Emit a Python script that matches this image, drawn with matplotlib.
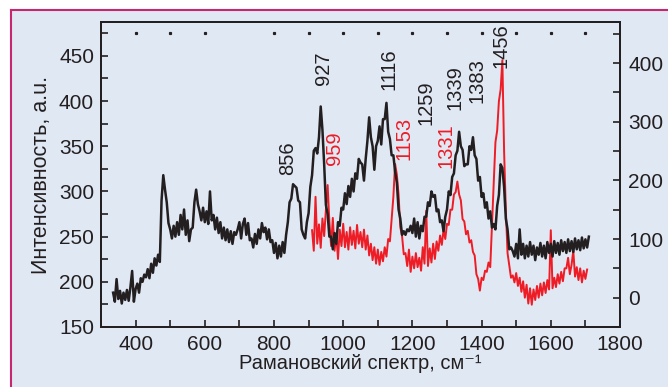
import numpy as np
import matplotlib.pyplot as plt
from matplotlib.patches import Rectangle
from matplotlib.lines import Line2D
from matplotlib.ticker import MultipleLocator

plt.rcParams['font.family'] = ['Liberation Sans', 'DejaVu Sans']

# black spectrum (left axis), 335..1710 cm-1 every 5
black_start = 335
black_vals = [
    188, 178, 203, 181, 190, 176, 188, 180, 191, 179, 194, 212, 178, 192,      # 335-400
    198, 188, 204, 200, 208, 205, 214, 204, 220, 210, 226, 218, 230, 222,      # 405-470
    290, 318, 302, 288, 265, 258, 248, 262, 250, 266, 252, 274, 258, 280,      # 475-540
    252, 268, 245, 258, 260, 288, 302, 286, 278, 268, 282, 266, 278, 264,      # 545-610
    300, 268, 274, 258, 271, 254, 266, 248, 260, 246, 258, 244, 256, 242,      # 615-680
    255, 252, 258, 266, 248, 264, 270, 252, 265, 246, 248, 238, 253, 242,      # 685-750
    258, 248, 265, 255, 260, 247, 258, 244, 246, 232, 243, 226, 240, 228,      # 755-820
    244, 232, 252, 266, 288, 292, 308, 306, 304, 290, 288, 258, 252, 248,      # 825-890
    266, 276, 305, 318, 345, 348, 342, 360, 394, 368, 330, 285, 275, 250,      # 895-960
    250, 236, 254, 242, 266, 262, 282, 280, 298, 286, 306, 294, 314, 300,      # 965-1030
    320, 314, 336, 332, 330, 312, 336, 356, 382, 360, 350, 324, 350, 356,      # 1035-1100
    372, 352, 380, 380, 398, 366, 358, 340, 340, 322, 310, 280, 270, 252,      # 1105-1170
    256, 252, 258, 256, 262, 254, 270, 250, 266, 248, 262, 256, 272, 272,      # 1175-1240
    288, 284, 300, 294, 296, 278, 280, 266, 268, 256, 272, 280, 300, 296,      # 1245-1310
    316, 320, 340, 345, 366, 350, 346, 328, 330, 330, 350, 346, 360, 340,      # 1315-1380
    336, 312, 316, 294, 298, 282, 288, 270, 278, 260, 264, 258, 284, 296,      # 1385-1450
    330, 326, 305, 270, 258, 236, 238, 234, 228, 242, 226, 258, 230, 242,      # 1455-1520
    226, 240, 228, 244, 230, 240, 224, 238, 230, 243, 228, 240, 226, 244,      # 1525-1590
    232, 242, 228, 245, 232, 243, 230, 246, 234, 244, 232, 247, 234, 245,      # 1595-1660
    233, 248, 236, 246, 235, 249, 237, 247, 238, 250,                          # 1665-1710
]
black_x = black_start + 5 * np.arange(len(black_vals))

# red spectrum (right axis), 910..1705 cm-1 every 5
red_start = 910
red_vals = [
    115, 80, 172, 92, 125, 85, 135, 105, 150, 192, 130, 88, 136, 80,           # 910-975
    108, 66, 116, 88, 126, 86, 112, 82, 120, 90, 114, 84, 124, 92,             # 980-1045
    112, 86, 116, 82, 106, 72, 92, 64, 86, 58, 82, 56, 78, 62,                 # 1050-1115
    86, 70, 100, 96, 134, 172, 228, 210, 176, 120, 106, 74, 76, 54,            # 1120-1185
    82, 44, 70, 50, 76, 52, 68, 46, 86, 58, 148, 54, 84, 60,                   # 1190-1255
    92, 66, 96, 80, 106, 90, 116, 100, 126, 124, 150, 150, 176, 180,           # 1260-1325
    198, 176, 166, 134, 130, 108, 114, 94, 98, 78, 72, 40, 32, 12,             # 1330-1395
    34, 30, 46, 44, 60, 52, 125, 195, 265, 285, 335, 355, 405, 250,            # 1400-1465
    150, 76, 55, 34, 38, 26, 42, 20, 34, 10, 28, 0, 22, -10,                   # 1470-1535
    16, -12, 14, -4, 20, 0, 24, 4, 26, 8, 30, 14, 115, 16,                     # 1540-1605
    34, 18, 40, 24, 44, 28, 50, 50, 68, 40, 56, 80, 36, 52,                    # 1610-1675
    30, 50, 26, 46, 32, 48,                                                    # 1680-1705
]
red_x = red_start + 5 * np.arange(len(red_vals))

# peak labels
black_peaks = [856, 927, 1116, 1259, 1339, 1383, 1456]
black_pos = [(840, 318), (944, 418), (1132, 412), (1239, 374), (1323, 390), (1386, 398), (1456, 437)]
red_peaks = [959, 1153, 1331]
red_pos = [(975, 329), (1176, 335), (1297, 326)]

dot_x = [400, 500, 600, 800, 900, 1000, 1100, 1200, 1300, 1400, 1500, 1600, 1700]

blk = '#231f20'
red = '#ee1c25'

fig = plt.figure(figsize=(6.68, 3.87), dpi=100)
fig.patch.set_facecolor('white')
fig.patches.append(Rectangle((11/668, 0), 1, 1 - 10/387, transform=fig.transFigure,
                             facecolor='#e0e8f4', edgecolor='none', zorder=-10))
fig.lines.append(Line2D([11/668, 1], [1 - 10/387]*2, transform=fig.transFigure, color='#c8266e', lw=1.5))
fig.lines.append(Line2D([11/668]*2, [0, 1 - 10/387], transform=fig.transFigure, color='#c8266e', lw=1.5))

ax = fig.add_axes([101/668, 1 - 327/387, (620 - 101)/668, (327 - 22)/387])
ax.plot(black_x, black_vals, color=blk, lw=1.8, zorder=3)
ax.set_xlim(300, 1800)
ax.set_ylim(150, 487.5)
ax.plot(dot_x, [475]*len(dot_x), 's', color=blk, ms=1.3, zorder=2)

ax2 = ax.twinx()
ax2.plot(red_x, red_vals, color=red, lw=1.4, zorder=2)
ax2.set_ylim(-50, 470)
ax.set_zorder(ax2.get_zorder() + 1)
ax.patch.set_visible(False)
ax2.set_facecolor('#fefad8')

ax.xaxis.set_major_locator(MultipleLocator(200))
ax.xaxis.set_minor_locator(MultipleLocator(100))
ax.yaxis.set_major_locator(MultipleLocator(50))
ax.yaxis.set_minor_locator(MultipleLocator(25))
ax2.yaxis.set_major_locator(MultipleLocator(100))
ax2.yaxis.set_minor_locator(MultipleLocator(50))

for a in (ax, ax2):
    a.tick_params(which='both', direction='in', colors=blk, labelsize=15, width=1.2, length=5)
    for s in a.spines.values():
        s.set_linewidth(1.3)
        s.set_color(blk)
ax.tick_params(axis='y', pad=5)
ax2.tick_params(axis='y', pad=6)
ax.tick_params(axis='x', pad=6)

ax.set_xlabel('Рамановский спектр, см⁻¹', fontsize=14.5, color=blk, labelpad=0)
ax.set_ylabel('Интенсивность, а.u.', fontsize=15.5, color=blk, labelpad=5)

for lab, (x, y) in zip(black_peaks, black_pos):
    ax.text(x, y, str(lab), rotation=90, ha='center', va='bottom', fontsize=14.5, color=blk, zorder=5)
for lab, (x, y) in zip(red_peaks, red_pos):
    ax.text(x, y, str(lab), rotation=90, ha='center', va='bottom', fontsize=14.5, color=red, zorder=5)

plt.savefig('out.png', dpi=100, facecolor=fig.get_facecolor())
